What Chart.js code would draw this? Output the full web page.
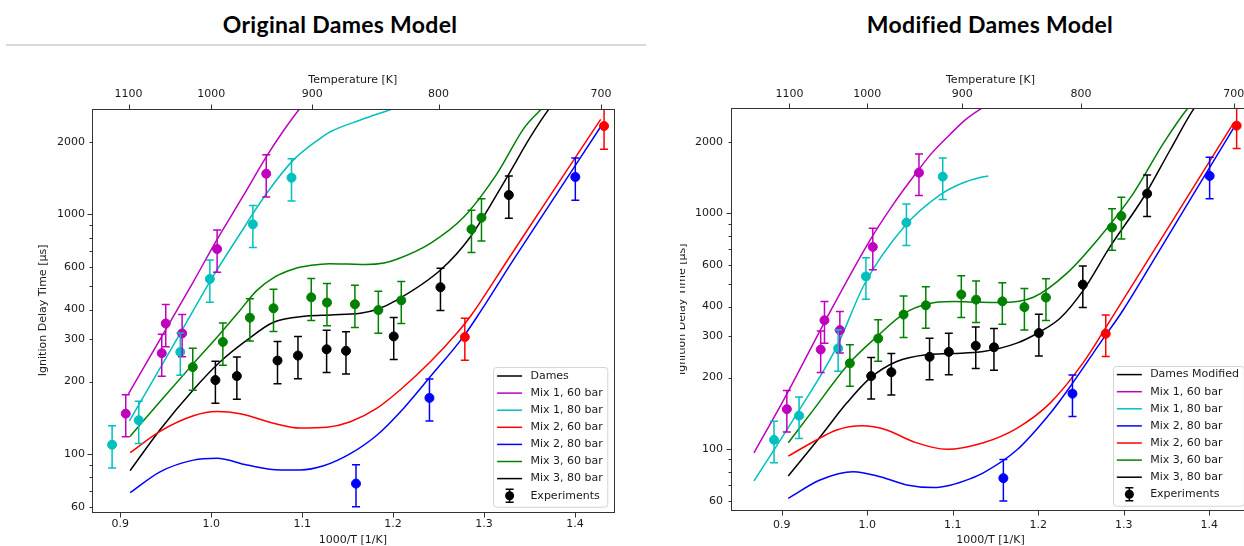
<!DOCTYPE html>
<html lang="en">
<head>
<meta charset="utf-8">
<title>Ignition delay times – Dames model</title>
<script src="https://cdn.jsdelivr.net/npm/chart.js@4.4.1/dist/chart.umd.min.js"></script>
<style>
  html, body { margin: 0; padding: 0; background: #fff; }
  body { width: 1244px; height: 546px; position: relative; overflow: hidden; }
  .heading { position: absolute; top: 13px; margin: 0; font: 700 23px/23px Lato, "Open Sans", sans-serif; letter-spacing: 0.3px; color: #000; white-space: nowrap; transform: translateX(-50%); }
  .rule { position: absolute; left: 6px; top: 44px; width: 640px; height: 2px; background: #dadada; }
  #origBox { position: absolute; left: 0; top: 0; width: 660px; height: 546px; overflow: hidden; }
  #modBox { position: absolute; left: 680px; top: 0; width: 564px; height: 546px; overflow: hidden; }
  #modChart { position: absolute; left: -8px; top: 0; }
</style>
</head>
<body>
<h1 class="heading" style="left:340px">Original Dames Model</h1>
<div class="rule"></div>
<h1 class="heading" style="left:990px">Modified Dames Model</h1>
<div id="origBox"><canvas id="origChart" width="660" height="560"></canvas></div>
<div id="modBox"><canvas id="modChart" width="600" height="560"></canvas></div>
<script>
// axis ticks
var xTickVals = [0.9, 1.0, 1.1, 1.2, 1.3, 1.4];
var tempTicks = [1100, 1000, 900, 800, 700];
var yTickVals = [60, 100, 200, 300, 400, 600, 1000, 2000];
var yMajorVals = [100, 1000];
var yMinorVals = [70, 80, 90, 500, 700, 800, 900];

// shock tube experiments: 1000/T [1/K] and ignition delay [µs], ±20 % error
var ERR = 0.2;
var mix1_60_x = [0.906, 0.9456, 0.950, 0.968, 1.0065, 1.0605];
var mix1_60_y = [147, 263, 350, 318, 716, 1478];
var mix1_80_x = [0.891, 0.9203, 0.966, 0.9985, 1.0458, 1.0883];
var mix1_80_y = [109, 138, 266, 537, 908, 1422];
var mix2_60_x = [1.2789, 1.432];
var mix2_60_y = [307, 2338];
var mix2_80_x = [1.1592, 1.24, 1.4004];
var mix2_80_y = [75, 171, 1432];
var mix3_60_x = [0.9797, 1.0128, 1.0425, 1.0685, 1.11, 1.1273, 1.158, 1.1838, 1.209, 1.2862, 1.2972];
var mix3_60_y = [230, 293, 370, 405, 450, 428, 421, 398, 437, 866, 968];
var mix3_80_x = [1.0046, 1.0282, 1.0729, 1.0954, 1.1269, 1.1482, 1.2007, 1.2521, 1.3273];
var mix3_80_y = [203, 211, 245, 257, 273, 269, 309, 496, 1204];

// original Dames mechanism, [1000/T, tau]
var origMix1_60 = [[0.909, 178], [0.95, 330], [0.98, 520], [1.006, 780], [1.035, 1190], [1.061, 1750], [1.08, 2250], [1.097, 2754], [1.11, 3150]];
var origMix1_80 = [[0.91, 137], [0.95, 250], [0.98, 395], [1.0, 535], [1.03, 810], [1.061, 1224], [1.09, 1680], [1.12, 2078], [1.131, 2213], [1.164, 2477], [1.199, 2754], [1.22, 2950]];
var origMix2_60 = [[0.9108, 101], [0.9437, 124], [0.9804, 144], [1.0062, 150], [1.0318, 147], [1.0685, 134], [1.098, 128], [1.1273, 129], [1.153, 136], [1.1824, 155], [1.208, 185], [1.241, 242], [1.2705, 320], [1.2851, 375], [1.3255, 640], [1.3696, 1150], [1.4283, 2494]];
var origMix2_80 = [[0.9108, 68.7], [0.9437, 84], [0.9804, 94], [1.0062, 95.7], [1.0392, 89.7], [1.0759, 85.5], [1.098, 85.5], [1.1236, 89], [1.153, 100], [1.1824, 119.7], [1.2117, 155], [1.241, 210], [1.2778, 310], [1.296, 392], [1.3328, 650], [1.3696, 1061], [1.4283, 2322]];
var origMix3_60 = [[0.9107, 118], [0.95, 176], [0.98, 237], [1.01, 318], [1.03, 390], [1.05, 480], [1.07, 548], [1.09, 590], [1.11, 612], [1.13, 622], [1.15, 620], [1.17, 617], [1.19, 626], [1.204, 649], [1.241, 757], [1.278, 977], [1.3145, 1483], [1.3438, 2286], [1.362, 2728], [1.37, 2950]];
var origMix3_80 = [[0.9108, 85], [0.9437, 126], [0.9804, 185], [1.0098, 242], [1.0392, 298], [1.0685, 354], [1.105, 376], [1.131, 380], [1.164, 386], [1.182, 400], [1.204, 438], [1.2521, 585], [1.2851, 806], [1.3255, 1435], [1.3512, 2110], [1.3714, 2750], [1.38, 3000]];

// modified Dames mechanism
var modMix1_60 = [[0.8676, 96], [0.9039, 165], [0.9565, 380], [1.0033, 766], [1.03, 1080], [1.0539, 1420], [1.075, 1780], [1.097, 2150], [1.115, 2480], [1.1319, 2742], [1.14, 2850]];
var modMix1_80 = [[0.8676, 73], [0.9175, 140], [0.9643, 270], [0.997, 500], [1.0442, 880], [1.0851, 1190], [1.11, 1330], [1.1319, 1410], [1.1416, 1430]];
var modMix2_60 = [[0.9077, 93], [0.937, 107], [0.9643, 120], [0.9936, 125], [1.0228, 120], [1.054, 107], [1.093, 99.4], [1.1358, 106], [1.1749, 122], [1.2138, 156], [1.2528, 232], [1.284, 349], [1.3308, 651], [1.3697, 1096], [1.4282, 2393]];
var modMix2_80 = [[0.9077, 61.6], [0.9448, 73.7], [0.9837, 79.9], [1.015, 76.1], [1.0462, 70.2], [1.0773, 68.4], [1.097, 70], [1.12, 74.5], [1.1358, 79], [1.1749, 98.7], [1.2138, 141], [1.2372, 183], [1.2723, 280], [1.2995, 388], [1.3386, 663], [1.3776, 1136], [1.4282, 2279]];
var modMix3_60 = [[0.9077, 106], [0.937, 146], [0.9779, 228], [1.0111, 298], [1.0422, 372], [1.0696, 410], [1.1007, 420], [1.1319, 417], [1.1553, 416], [1.1943, 438], [1.2333, 553], [1.2723, 791], [1.3112, 1208], [1.3463, 1968], [1.3737, 2740], [1.38, 2900]];
var modMix3_80 = [[0.9077, 76.6], [0.9448, 112], [0.976, 156], [1.0033, 199], [1.0345, 234], [1.0696, 250], [1.1, 253], [1.1358, 258], [1.1749, 280], [1.2021, 313], [1.2255, 357], [1.2528, 470], [1.284, 718], [1.323, 1160], [1.3542, 1844], [1.3814, 2741], [1.39, 3000]];

var origLegendLabels = ['Dames', 'Mix 1, 60 bar', 'Mix 1, 80 bar', 'Mix 2, 60 bar', 'Mix 2, 80 bar', 'Mix 3, 60 bar', 'Mix 3, 80 bar', 'Experiments'];
var origLegendColors = ['#000000', '#bf00bf', '#00bfbf', '#ff0000', '#0000ff', '#008000', '#000000', '#000000'];
var modLegendLabels = ['Dames Modified', 'Mix 1, 60 bar', 'Mix 1, 80 bar', 'Mix 2, 80 bar', 'Mix 2, 60 bar', 'Mix 3, 60 bar', 'Mix 3, 80 bar', 'Experiments'];
var modLegendColors = ['#000000', '#bf00bf', '#00bfbf', '#0000ff', '#ff0000', '#008000', '#000000', '#000000'];

var C = { m: '#bf00bf', c: '#00bfbf', r: '#ff0000', b: '#0000ff', g: '#008000', k: '#000000' };
var TEXT = '#1a1a1a';
var FONT = { family: 'DejaVu Sans', size: 11 };

function curve (label, pairs, color) {
  return {
    label: label,
    data: pairs.map(function (p) { return { x: p[0], y: p[1] }; }),
    borderColor: color,
    borderWidth: 1.5,
    pointRadius: 0,
    cubicInterpolationMode: 'monotone',
    fill: false,
    order: 1
  };
}

function experiment (label, xs, ys, color) {
  return {
    label: label,
    data: xs.map(function (x, i) { return { x: x, y: ys[i] }; }),
    showLine: false,
    pointRadius: 4.5,
    pointBackgroundColor: color,
    pointBorderColor: color,
    borderColor: color,
    errFrac: ERR,
    order: 0
  };
}

function experimentSets () {
  return [
    experiment('Mix 1, 60 bar exp', mix1_60_x, mix1_60_y, C.m),
    experiment('Mix 1, 80 bar exp', mix1_80_x, mix1_80_y, C.c),
    experiment('Mix 2, 60 bar exp', mix2_60_x, mix2_60_y, C.r),
    experiment('Mix 2, 80 bar exp', mix2_80_x, mix2_80_y, C.b),
    experiment('Mix 3, 60 bar exp', mix3_60_x, mix3_60_y, C.g),
    experiment('Mix 3, 80 bar exp', mix3_80_x, mix3_80_y, C.k)
  ];
}

// vertical error bars with caps
var errorBars = {
  id: 'errorBars',
  afterDatasetsDraw: function (chart) {
    var ctx = chart.ctx, a = chart.chartArea, xs = chart.scales.x, ys = chart.scales.y;
    ctx.save();
    ctx.beginPath();
    ctx.rect(a.left, a.top, a.right - a.left, a.bottom - a.top);
    ctx.clip();
    chart.data.datasets.forEach(function (ds) {
      if (!ds.errFrac) return;
      ctx.strokeStyle = ds.borderColor;
      ctx.lineWidth = 1.5;
      ctx.beginPath();
      ds.data.forEach(function (p) {
        var px = xs.getPixelForValue(p.x);
        var hi = ys.getPixelForValue(p.y * (1 + ds.errFrac));
        var lo = ys.getPixelForValue(p.y * (1 - ds.errFrac));
        ctx.moveTo(px, hi); ctx.lineTo(px, lo);
        ctx.moveTo(px - 4, hi); ctx.lineTo(px + 4, hi);
        ctx.moveTo(px - 4, lo); ctx.lineTo(px + 4, lo);
      });
      ctx.stroke();
    });
    ctx.restore();
  }
};

// axes frame and outward tick marks
var frameTicks = {
  id: 'frameTicks',
  afterDatasetsDraw: function (chart) {
    var ctx = chart.ctx, a = chart.chartArea, s = chart.scales;
    var L = Math.round(a.left) + 0.5, R = Math.round(a.right) + 0.5;
    var T = Math.round(a.top) + 0.5, B = Math.round(a.bottom) + 0.5;
    ctx.save();
    ctx.strokeStyle = '#333';
    ctx.lineWidth = 1;
    ctx.strokeRect(L, T, R - L, B - T);
    ctx.beginPath();
    s.x.ticks.forEach(function (t) {
      var px = Math.round(s.x.getPixelForValue(t.value)) + 0.5;
      ctx.moveTo(px, B); ctx.lineTo(px, B + 5);
    });
    s.xTop.ticks.forEach(function (t) {
      var px = Math.round(s.xTop.getPixelForValue(t.value)) + 0.5;
      ctx.moveTo(px, T); ctx.lineTo(px, T - 5);
    });
    s.y.ticks.map(function (t) { return t.value; }).concat(yMinorVals).forEach(function (v) {
      if (v < s.y.min || v > s.y.max) return;
      var py = Math.round(s.y.getPixelForValue(v)) + 0.5;
      var len = yMajorVals.indexOf(v) >= 0 ? 5 : 3;
      ctx.moveTo(L, py); ctx.lineTo(L - len, py);
    });
    ctx.stroke();
    ctx.restore();
  }
};

// legend box in the lower right corner of the plot
var boxLegend = {
  id: 'boxLegend',
  afterDraw: function (chart, args, opts) {
    var ctx = chart.ctx, a = chart.chartArea;
    ctx.save();
    ctx.font = '11px "DejaVu Sans"';
    var textW = Math.max.apply(null, opts.labels.map(function (s) { return ctx.measureText(s).width; }));
    var rowH = 17.1;
    var w = 37 + textW + 5, h = 20 + rowH * (opts.labels.length - 1);
    var right = a.right - 6, bottom = a.bottom - 5;
    var left = right - w, top = bottom - h;
    ctx.fillStyle = 'rgba(255,255,255,0.85)';
    ctx.strokeStyle = '#d4d4d4';
    ctx.lineWidth = 1;
    ctx.beginPath();
    ctx.roundRect(Math.round(left) + 0.5, Math.round(top) + 0.5, w, h, 3);
    ctx.fill();
    ctx.stroke();
    opts.labels.forEach(function (label, i) {
      var cy = top + 9 + rowH * i;
      var col = opts.colors[i];
      var mx = left + 16.2;
      ctx.strokeStyle = col;
      ctx.fillStyle = col;
      ctx.lineWidth = 1.5;
      ctx.beginPath();
      if (i === opts.labels.length - 1) {
        ctx.moveTo(mx, cy - 6.5); ctx.lineTo(mx, cy + 6.5);
        ctx.moveTo(mx - 4, cy - 6.5); ctx.lineTo(mx + 4, cy - 6.5);
        ctx.moveTo(mx - 4, cy + 6.5); ctx.lineTo(mx + 4, cy + 6.5);
        ctx.stroke();
        ctx.beginPath();
        ctx.arc(mx, cy, 4.5, 0, Math.PI * 2);
        ctx.fill();
      } else {
        ctx.moveTo(left + 3.7, cy); ctx.lineTo(left + 28.7, cy);
        ctx.stroke();
      }
      ctx.fillStyle = TEXT;
      ctx.textBaseline = 'middle';
      ctx.fillText(label, left + 37, cy);
    });
    ctx.restore();
  }
};

function panelConfig (p) {
  // tick marks come from frameTicks, so the scales draw labels only
  var noGrid = { display: false, drawTicks: false, tickLength: 0 };
  return {
    type: 'line',
    data: { datasets: p.datasets },
    options: {
      responsive: false,
      animation: false,
      devicePixelRatio: 1,
      events: [],
      layout: { padding: { left: 0, top: 0, right: p.padRight, bottom: 0 } },
      plugins: {
        legend: { display: false },
        tooltip: { enabled: false },
        boxLegend: { labels: p.legendLabels, colors: p.legendColors }
      },
      scales: {
        x: {
          type: 'linear',
          position: 'bottom',
          min: p.xMin,
          max: p.xMax,
          afterBuildTicks: function (scale) { scale.ticks = xTickVals.map(function (v) { return { value: v }; }); },
          afterFit: function (scale) { scale.height = p.bottomH; },
          grid: noGrid,
          border: { display: false },
          ticks: { font: FONT, color: TEXT, padding: p.xTickPad, autoSkip: false, maxRotation: 0,
            callback: function (v) { return v.toFixed(1); } },
          title: { display: true, text: '1000/T [1/K]', font: FONT, color: TEXT, padding: { top: 0, bottom: p.xTitlePad } }
        },
        xTop: {
          type: 'linear',
          position: 'top',
          min: p.xMin,
          max: p.xMax,
          afterBuildTicks: function (scale) { scale.ticks = tempTicks.map(function (T) { return { value: 1000 / T }; }); },
          afterFit: function (scale) { scale.height = p.topH; },
          grid: noGrid,
          border: { display: false },
          ticks: { font: FONT, color: TEXT, padding: 8, autoSkip: false, maxRotation: 0,
            callback: function (v) { return String(Math.round(1000 / v)); } },
          title: { display: true, text: 'Temperature [K]', font: FONT, color: TEXT, padding: { top: p.topTitlePad, bottom: 0 } }
        },
        y: {
          type: 'logarithmic',
          position: 'left',
          min: p.yMin,
          max: p.yMax,
          afterBuildTicks: function (scale) { scale.ticks = yTickVals.map(function (v) { return { value: v }; }); },
          afterFit: function (scale) { scale.width = p.yW; },
          grid: noGrid,
          border: { display: false },
          ticks: { font: FONT, color: TEXT, padding: p.yTickPad, autoSkip: false,
            callback: function (v) { return String(v); } },
          title: { display: true, text: 'Ignition Delay Time [µs]', font: FONT, color: TEXT, padding: { top: p.yTitlePad, bottom: 0 } }
        }
      }
    },
    plugins: [errorBars, frameTicks, boxLegend]
  };
}

new Chart(document.getElementById('origChart'), panelConfig({
  datasets: [
    curve('Mix 1, 60 bar', origMix1_60, C.m),
    curve('Mix 1, 80 bar', origMix1_80, C.c),
    curve('Mix 2, 60 bar', origMix2_60, C.r),
    curve('Mix 2, 80 bar', origMix2_80, C.b),
    curve('Mix 3, 60 bar', origMix3_60, C.g),
    curve('Mix 3, 80 bar', origMix3_80, C.k)
  ].concat(experimentSets()),
  legendLabels: origLegendLabels,
  legendColors: origLegendColors,
  xMin: 0.8689, xMax: 1.4426, yMin: 57.24, yMax: 2754,
  yW: 92, topH: 109, bottomH: 48.3, padRight: 46.3,
  yTitlePad: 37, topTitlePad: 73.9, xTitlePad: 12.9, xTickPad: 6, yTickPad: 7
}));

new Chart(document.getElementById('modChart'), panelConfig({
  datasets: [
    curve('Mix 1, 60 bar', modMix1_60, C.m),
    curve('Mix 1, 80 bar', modMix1_80, C.c),
    curve('Mix 2, 80 bar', modMix2_80, C.b),
    curve('Mix 2, 60 bar', modMix2_60, C.r),
    curve('Mix 3, 60 bar', modMix3_60, C.g),
    curve('Mix 3, 80 bar', modMix3_80, C.k)
  ].concat(experimentSets()),
  legendLabels: modLegendLabels,
  legendColors: modLegendColors,
  xMin: 0.8407, xMax: 1.4476, yMin: 54.8, yMax: 2770,
  yW: 59, topH: 108.3, bottomH: 49.7, padRight: 22,
  yTitlePad: 3.9, topTitlePad: 73.4, xTitlePad: 13.4, xTickPad: 8, yTickPad: 8
}));
</script>
</body>
</html>
